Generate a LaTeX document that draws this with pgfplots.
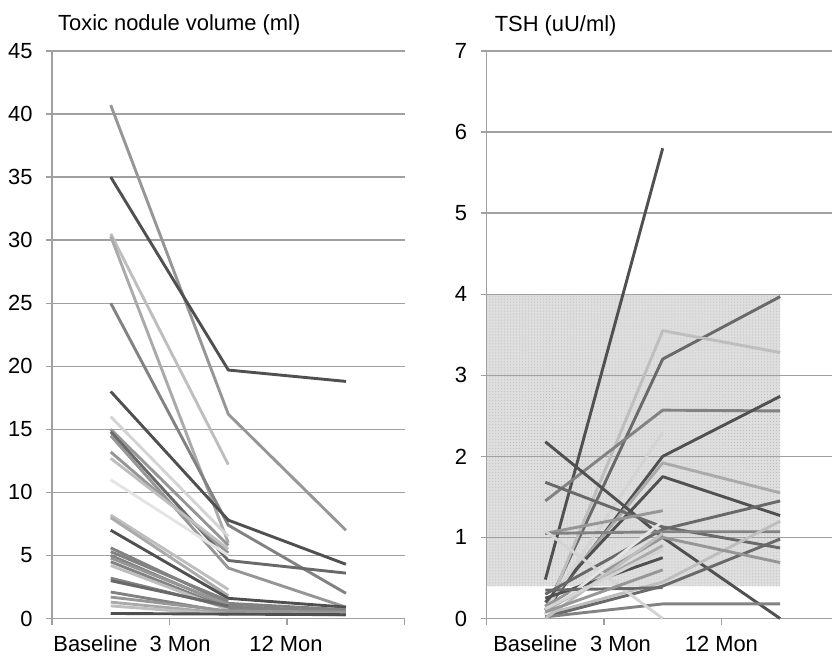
\documentclass[border=0pt]{standalone}
\usepackage{pgfplots}
\pgfplotsset{compat=1.18}
\usepackage{fontspec}
\setmainfont{Liberation Sans}
\usetikzlibrary{patterns}
\definecolor{gridc}{RGB}{160,160,160}
\definecolor{c1}{RGB}{80,80,80}
\definecolor{c2}{RGB}{105,105,105}
\definecolor{c3}{RGB}{130,130,130}
\definecolor{c4}{RGB}{150,150,150}
\definecolor{c5}{RGB}{170,170,170}
\definecolor{c6}{RGB}{190,190,190}
\definecolor{c7}{RGB}{212,212,212}
\definecolor{c8}{RGB}{228,228,228}
\begin{document}
\fontsize{22}{26}\selectfont
\begin{tikzpicture}
\path (0bp,0bp) rectangle (833bp,664bp);
\pgfplotsset{panel/.style={
  set layers, scale only axis, height=568bp, ymin=0, xmin=-0.5,
  axis x line=bottom, axis y line=left,
  axis line style={gridc, line width=1.3bp, -},
  ymajorgrids, grid style={gridc, line width=1.3bp},
  tick align=outside, major tick length=6bp,
  tick style={gridc, line width=1.3bp},
  xtick={-0.5,0.5,1.5,2.5}, xticklabels={},
  extra x tick style={major tick length=0pt, grid=none,
     xticklabel style={anchor=base, yshift=-33bp}},
  extra x tick labels={Baseline,3 Mon,12 Mon},
  yticklabel style={xshift=-6bp},
  tick label style={font=\fontsize{22}{26}\selectfont},
  /pgf/number format/assume math mode=true,
  clip=false,
  every axis plot/.append style={line width=2.9bp, line join=round},
}}
% ---------------- left panel
\begin{axis}[panel, at={(52bp,45bp)}, anchor=south west, width=353bp,
  xmax=2.5, ymax=45, ytick={0,5,...,45},
  extra x ticks={-0.13,0.59,1.49}]
\addplot[c4] coordinates {(0,40.7) (1,16.2) (2,7.0)};
\addplot[c1] coordinates {(0,35.0) (1,19.7) (2,18.8)};
\addplot[c6] coordinates {(0,30.5) (1,12.2)};
\addplot[c5] coordinates {(0,30.3) (1,6.0)};
\addplot[c3] coordinates {(0,25.0) (1,7.4) (2,2.0)};
\addplot[c1] coordinates {(0,18.0) (1,7.8) (2,4.3)};
\addplot[c7] coordinates {(0,16.0) (1,6.5)};
\addplot[c4] coordinates {(0,15.0) (1,5.8)};
\addplot[c2] coordinates {(0,14.8) (1,4.6) (2,3.6)};
\addplot[c4] coordinates {(0,14.5) (1,4.0) (2,0.9)};
\addplot[c4] coordinates {(0,13.2) (1,5.2)};
\addplot[c6] coordinates {(0,12.7) (1,5.5)};
\addplot[c8] coordinates {(0,11.0) (1,5.0)};
\addplot[c6] coordinates {(0,8.2) (1,2.3)};
\addplot[c5] coordinates {(0,8.0) (1,1.8)};
\addplot[c1] coordinates {(0,7.0) (1,1.6) (2,0.9)};
\addplot[c3] coordinates {(0,5.6) (1,1.2) (2,0.7)};
\addplot[c3] coordinates {(0,5.3) (1,1.4)};
\addplot[c3] coordinates {(0,5.0) (1,1.0) (2,0.5)};
\addplot[c4] coordinates {(0,4.8) (1,1.1)};
\addplot[c3] coordinates {(0,4.5) (1,0.8) (2,0.6)};
\addplot[c6] coordinates {(0,4.2) (1,0.7)};
\addplot[c3] coordinates {(0,3.2) (1,0.9) (2,0.4)};
\addplot[c2] coordinates {(0,3.0) (1,1.0)};
\addplot[c3] coordinates {(0,2.1) (1,0.5) (2,0.3)};
\addplot[c4] coordinates {(0,1.7) (1,0.6) (2,0.5)};
\addplot[c5] coordinates {(0,1.3) (1,0.4) (2,0.3)};
\addplot[c6] coordinates {(0,1.0) (1,0.3)};
\addplot[c1] coordinates {(0,0.4) (1,0.35) (2,0.3)};
\end{axis}
\node[anchor=base west, inner sep=0pt] at (58bp,633bp) {Toxic nodule volume (ml)};
% ---------------- right panel
\begin{axis}[panel, at={(487bp,45bp)}, anchor=south west, width=346bp,
  xmax=2.445, ymax=7, ytick={0,1,...,7},
  extra x ticks={-0.085,0.64,1.5}]
\addplot[draw=none, fill=black!13, on layer=axis background] coordinates {(-0.5,0.4) (2,0.4) (2,4) (-0.5,4) (-0.5,0.4)};
\addplot[draw=none, pattern=dots, pattern color=black!28, on layer=axis background] coordinates {(-0.5,0.4) (2,0.4) (2,4) (-0.5,4) (-0.5,0.4)};
\addplot[c1] coordinates {(0,0.48) (1,5.8)};
\addplot[c2] coordinates {(0,0.1) (1,3.2) (2,3.97)};
\addplot[c6] coordinates {(0,0.05) (1,3.55) (2,3.28)};
\addplot[c3] coordinates {(0,1.45) (1,2.57) (2,2.56)};
\addplot[c1] coordinates {(0,0.1) (1,2.0) (2,2.74)};
\addplot[c5] coordinates {(0,0.15) (1,1.92) (2,1.55)};
\addplot[c1] coordinates {(0,0.2) (1,1.75) (2,1.27)};
\addplot[c7] coordinates {(0,0.1) (1,2.3)};
\addplot[c1] coordinates {(0,2.18) (1,1.0) (2,0.0)};
\addplot[c2] coordinates {(0,1.68) (1,1.13) (2,0.87)};
\addplot[c2] coordinates {(0,0.3) (1,1.1) (2,1.45)};
\addplot[c4] coordinates {(0,1.05) (1,1.33)};
\addplot[c3] coordinates {(0,1.05) (1,1.07) (2,1.07)};
\addplot[c6] coordinates {(0,0.05) (1,0.45) (2,1.2)};
\addplot[c2] coordinates {(0,0.02) (1,0.4) (2,0.98)};
\addplot[c4] coordinates {(0,0.15) (1,1.0) (2,0.69)};
\addplot[c3] coordinates {(0,0.02) (1,0.18) (2,0.18)};
\addplot[c7] coordinates {(0,1.08) (1,0.0)};
\addplot[c1] coordinates {(0,0.25) (1,0.75)};
\addplot[c8] coordinates {(0,0.05) (1,1.2)};
\addplot[c5] coordinates {(0,0.1) (1,0.9)};
\addplot[c2] coordinates {(0,0.35) (1,0.38)};
\addplot[c6] coordinates {(0,0.0) (1,1.05)};
\addplot[c4] coordinates {(0,0.08) (1,0.6)};
\addplot[c7] coordinates {(0,0.12) (1,0.85)};
\end{axis}
\node[anchor=base west, inner sep=0pt] at (495bp,632bp) {TSH (uU/ml)};
\end{tikzpicture}
\end{document}
